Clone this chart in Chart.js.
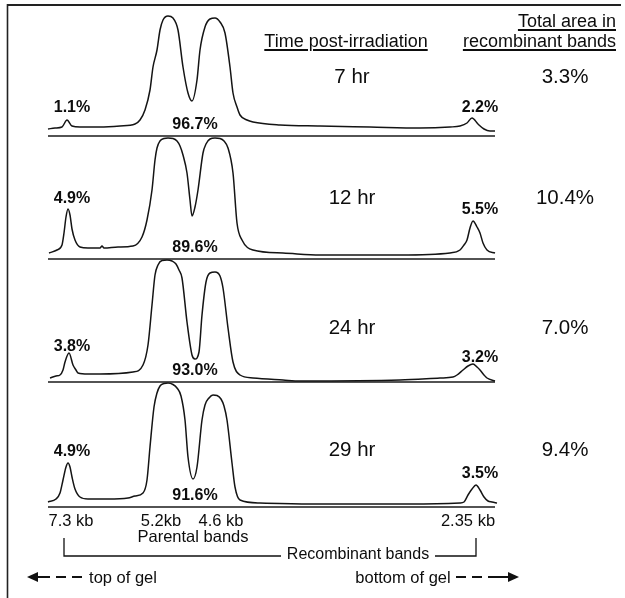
<!DOCTYPE html>
<html>
<head>
<meta charset="utf-8">
<script src="https://cdn.jsdelivr.net/npm/chart.js@4.4.1/dist/chart.umd.min.js"></script>
<style>
  html, body { margin:0; padding:0; background:#fff; }
  #fig { position:relative; width:625px; height:598px; overflow:hidden; background:#fff;
         font-family:"Liberation Sans", Arial, Helvetica, sans-serif; color:#0d0d0d; }
  #c { position:absolute; left:0; top:0; }
  #deco { position:absolute; left:0; top:0; }
  .lbl { position:absolute; white-space:nowrap; line-height:1; transform:translate(-50%,-50%); }
  .right { transform:translate(-100%,-50%); }
  .pk { font-size:16px; font-weight:bold; }
  .big { font-size:20.5px; }
  .hdr { font-size:18px; text-decoration:underline; text-underline-offset:2px; text-decoration-thickness:1.5px; }
  .bot { font-size:16.5px; }
  .rb { font-size:16px; }
</style>
</head>
<body>
<div id="fig">
  <canvas id="c" width="625" height="598"></canvas>
  <svg id="deco" width="625" height="598">
    <line x1="7" y1="5" x2="621" y2="5" stroke="#222" stroke-width="2"/>
    <line x1="7.5" y1="4" x2="7.5" y2="598" stroke="#222" stroke-width="1.6"/>
    <polyline points="64,538 64,556 281,556" fill="none" stroke="#111" stroke-width="1.3"/>
    <polyline points="435,556 476,556 476,538" fill="none" stroke="#111" stroke-width="1.3"/>
    <line x1="40" y1="577" x2="82" y2="577" stroke="#111" stroke-width="2" stroke-dasharray="10,6"/>
    <line x1="34" y1="577" x2="40" y2="577" stroke="#111" stroke-width="2"/>
    <polygon points="27,577 38,572 38,582" fill="#111"/>
    <line x1="456" y1="577" x2="498" y2="577" stroke="#111" stroke-width="2" stroke-dasharray="10,6"/>
    <line x1="498" y1="577" x2="510" y2="577" stroke="#111" stroke-width="2"/>
    <polygon points="519,577 508,572 508,582" fill="#111"/>
  </svg>
</div>
<script>
// ---------------- DATA ----------------
const timePoints = ['7 hr', '12 hr', '24 hr', '29 hr'];
const totalRecombinant = ['3.3%', '10.4%', '7.0%', '9.4%'];
const band73Pct = ['1.1%', '4.9%', '3.8%', '4.9%'];
const parentalPct = ['96.7%', '89.6%', '93.0%', '91.6%'];
const band235Pct = ['2.2%', '5.5%', '3.2%', '3.5%'];
const bandSizes = ['7.3 kb', '5.2kb', '4.6 kb', '2.35 kb'];

// densitometry traces: [gel position (a.u.), absorbance (a.u.)]
const trace7hr = [[0,7],[7,8],[14,9],[19,16],[24,10],[32,9],[52,9],[72,10],[87,12],[92,16],[97,26],[102,46],[105,69],[109,86],[112,106],[115,116],[120,120],[125,118],[130,106],[135,69],[140,43],[144,35],[149,56],[152,86],[157,109],[162,117],[167,118],[172,114],[177,103],[182,69],[185,43],[189,29],[192,21],[199,16],[205,14],[232,11],[272,10],[322,9],[372,8],[402,9],[412,10],[419,13],[424,18],[430,12],[436,7],[442,5],[447,5]];
const trace12hr = [[1,6],[9,9],[14,14],[16,26],[18,42],[20,50],[22,44],[24,30],[27,19],[32,12],[40,11],[52,11],[54,13],[56,11],[70,12],[85,13],[94,22],[99,39],[104,69],[107,99],[109,111],[112,118],[116,120.5],[120,121],[125,120.5],[129,118],[132,113],[135,104],[139,86],[142,59],[144,43],[147,52],[150,69],[155,106],[158,115],[162,120],[167,121],[172,120.5],[176,118],[180,111],[185,86],[189,36],[194,19],[205,9],[235,6],[272,4],[302,4],[352,4],[402,6],[412,9],[416,14],[419,19],[422,31],[425,38],[429,32],[432,26],[435,16],[439,9],[447,6]];
const trace24hr = [[2,4],[8,6],[12,7],[15,12],[17,20],[21,29],[25,17],[28,12],[30,9],[40,8],[52,8],[85,10],[95,17],[100,37],[104,77],[107,107],[110,117],[114,121.5],[119,122],[124,121],[128,118],[131,112],[134,104],[139,60],[144,27],[147,23],[151,30],[154,67],[158,100],[162,109],[167,110],[172,106],[175,94],[180,54],[185,20],[192,7],[205,4],[235,2],[252,1],[352,2],[392,4],[405,5],[409,7],[415,12],[420,16],[425,18],[429,15],[432,12],[436,7],[439,4],[447,1]];
const trace29hr = [[0,5],[8,8],[12,14],[15,27],[18,40],[20,44],[22,40],[24,30],[27,18],[32,10],[40,8],[60,8],[80,9],[87,11],[95,14],[99,27],[102,60],[106,100],[109,114],[112,121],[116,123.5],[120,124],[125,122.5],[129,119],[133,111],[137,87],[140,50],[145,28],[149,40],[154,87],[157,102],[161,109],[165,112],[169,111.5],[173,108],[176,101],[179,87],[184,44],[187,20],[192,7],[212,4],[262,3],[362,3],[412,4],[416,5],[420,12],[424,18],[428,22],[432,17],[436,10],[440,6],[444,5],[449,4]];

// ---------------- LAYOUT ----------------
const traces = [trace7hr, trace12hr, trace24hr, trace29hr];
const LANE_OFFSET = [371, 248, 125, 0];   // vertical stacking of the four scans
const X_MAX = 447;
const LEFT_GAP = [13, 11, 7, 12];
const RIGHT_GAP = [11, 12, 7, 12];
const ROW_TEXT_RISE = [60, 62, 55, 58];

const datasets = [];
traces.forEach((tr, i) => {
  datasets.push({
    data: tr.map(p => ({ x: p[0], y: p[1] + LANE_OFFSET[i] })),
    borderColor: '#141414', borderWidth: 1.5, pointRadius: 0, fill: false,
    cubicInterpolationMode: 'monotone', clip: false
  });
  datasets.push({
    data: [{ x: 0, y: LANE_OFFSET[i] }, { x: X_MAX, y: LANE_OFFSET[i] }],
    borderColor: '#1a1a1a', borderWidth: 1.7, pointRadius: 0, fill: false, clip: false
  });
});

const chart = new Chart(document.getElementById('c'), {
  type: 'line',
  data: { datasets },
  options: {
    responsive: false, animation: false, devicePixelRatio: 1,
    layout: { padding: { left: 48, right: 130, top: 5, bottom: 91 } },
    plugins: { legend: { display: false }, tooltip: { enabled: false } },
    scales: {
      x: { type: 'linear', min: 0, max: X_MAX, display: false },
      y: { type: 'linear', min: 0, max: 502, display: false }
    }
  }
});

// ---------------- TEXT (HTML) ----------------
const fig = document.getElementById('fig');
function addText(txt, cls, x, y) {
  const d = document.createElement('div');
  d.className = 'lbl ' + cls;
  d.textContent = txt;
  d.style.left = x + 'px';
  d.style.top = y + 'px';
  fig.appendChild(d);
  return d;
}
function peakIn(tr, lo, hi) {
  let best = null;
  tr.forEach(p => { if (p[0] >= lo && p[0] <= hi && (!best || p[1] > best[1])) best = p; });
  return best;
}
const xs = chart.scales.x, ys = chart.scales.y;
traces.forEach((tr, i) => {
  const off = LANE_OFFSET[i];
  const pL = peakIn(tr, 0, 50), pR = peakIn(tr, 400, 449);
  addText(band73Pct[i], 'pk', xs.getPixelForValue(24), ys.getPixelForValue(pL[1] + off) - LEFT_GAP[i]);
  addText(band235Pct[i], 'pk', xs.getPixelForValue(432), ys.getPixelForValue(pR[1] + off) - RIGHT_GAP[i]);
  addText(parentalPct[i], 'pk', xs.getPixelForValue(147), ys.getPixelForValue(off) - 12);
  const rowY = ys.getPixelForValue(off) - ROW_TEXT_RISE[i];
  addText(timePoints[i], 'big', 352, rowY);
  addText(totalRecombinant[i], 'big', 565, rowY);
});
addText('Time post-irradiation', 'hdr', 346, 41);
addText('Total area in', 'hdr right', 616, 21);
addText('recombinant bands', 'hdr right', 616, 41);

const baseY = ys.getPixelForValue(0);
addText(bandSizes[0], 'bot', 71, baseY + 13);
addText(bandSizes[1], 'bot', 161, baseY + 13);
addText(bandSizes[2], 'bot', 221, baseY + 13);
addText(bandSizes[3], 'bot', 468, baseY + 13);
addText('Parental bands', 'bot', 193, 536);
addText('Recombinant bands', 'rb', 358, 554);
addText('top of gel', 'bot', 123, 577);
addText('bottom of gel', 'bot', 403, 577);
</script>
</body>
</html>
